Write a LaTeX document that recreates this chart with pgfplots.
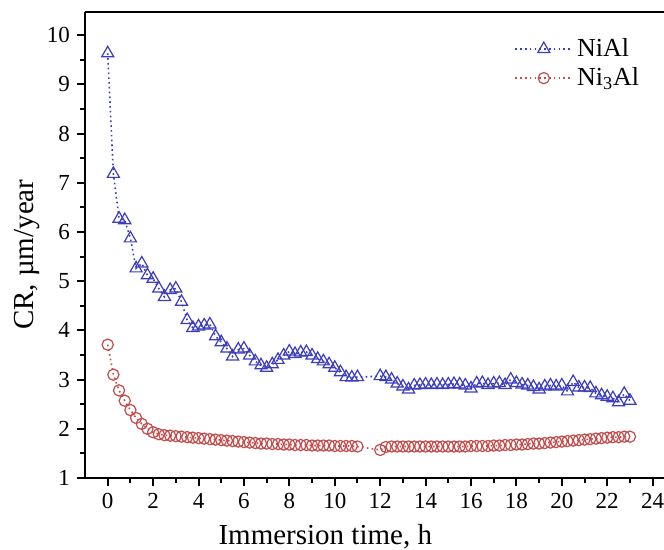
\documentclass[border=0pt]{standalone}
\usepackage{fontspec}
\setmainfont{Liberation Serif}
\usepackage{pgfplots}
\usepackage{pgfplotstable}
\pgfplotsset{compat=1.18}
\definecolor{niblue}{RGB}{60,60,190}
\definecolor{nired}{RGB}{195,75,75}

% NiAl (no points between 11 h and 12 h)
\pgfplotstableread{
x y
0 9.63
0.25 7.18
0.5 6.27
0.75 6.24
1.0 5.87
1.25 5.26
1.5 5.36
1.75 5.12
2.0 5.05
2.25 4.85
2.5 4.68
2.75 4.82
3.0 4.85
3.25 4.58
3.5 4.21
3.75 4.05
4.0 4.08
4.25 4.10
4.5 4.12
4.75 3.88
5.0 3.76
5.25 3.63
5.5 3.47
5.75 3.61
6.0 3.63
6.25 3.49
6.5 3.37
6.75 3.29
7.0 3.24
7.25 3.31
7.5 3.40
7.75 3.49
8.0 3.57
8.25 3.52
8.5 3.55
8.75 3.56
9.0 3.49
9.25 3.42
9.5 3.37
9.75 3.31
10.0 3.24
10.25 3.15
10.5 3.05
10.75 3.04
11.0 3.05
12.0 3.07
12.25 3.05
12.5 3.00
12.75 2.92
13.0 2.86
13.25 2.80
13.5 2.88
13.75 2.89
14.0 2.90
14.25 2.89
14.5 2.90
14.75 2.89
15.0 2.90
15.25 2.91
15.5 2.90
15.75 2.88
16.0 2.82
16.25 2.92
16.5 2.93
16.75 2.89
17.0 2.92
17.25 2.93
17.5 2.89
17.75 3.00
18.0 2.93
18.25 2.90
18.5 2.88
18.75 2.85
19.0 2.80
19.25 2.86
19.5 2.88
19.75 2.86
20.0 2.88
20.25 2.76
20.5 2.95
20.75 2.84
21.0 2.84
21.25 2.83
21.5 2.72
21.75 2.68
22.0 2.65
22.25 2.62
22.5 2.54
22.75 2.71
23.0 2.57
}\nial

% Ni3Al
\pgfplotstableread{
x y
0 3.71
0.25 3.10
0.5 2.78
0.75 2.57
1.0 2.38
1.25 2.22
1.5 2.10
1.75 2.00
2.0 1.93
2.25 1.89
2.5 1.87
2.75 1.86
3.0 1.85
3.25 1.84
3.5 1.83
3.75 1.82
4.0 1.81
4.25 1.80
4.5 1.79
4.75 1.78
5.0 1.77
5.25 1.76
5.5 1.75
5.75 1.74
6.0 1.73
6.25 1.72
6.5 1.71
6.75 1.70
7.0 1.70
7.25 1.69
7.5 1.69
7.75 1.68
8.0 1.68
8.25 1.67
8.5 1.67
8.75 1.67
9.0 1.66
9.25 1.66
9.5 1.66
9.75 1.66
10.0 1.65
10.25 1.65
10.5 1.65
10.75 1.65
11.0 1.64
12.0 1.57
12.25 1.63
12.5 1.64
12.75 1.64
13.0 1.64
13.25 1.64
13.5 1.64
13.75 1.64
14.0 1.64
14.25 1.64
14.5 1.64
14.75 1.64
15.0 1.64
15.25 1.64
15.5 1.64
15.75 1.64
16.0 1.65
16.25 1.65
16.5 1.65
16.75 1.65
17.0 1.66
17.25 1.66
17.5 1.67
17.75 1.67
18.0 1.68
18.25 1.68
18.5 1.69
18.75 1.70
19.0 1.70
19.25 1.71
19.5 1.72
19.75 1.73
20.0 1.74
20.25 1.75
20.5 1.76
20.75 1.77
21.0 1.78
21.25 1.79
21.5 1.80
21.75 1.81
22.0 1.82
22.25 1.83
22.5 1.83
22.75 1.84
23.0 1.84
}\nithreeal

\begin{document}
\begin{tikzpicture}
\path[use as bounding box] (-42.5pt,-36pt) rectangle (289.5pt,239pt);
\begin{axis}[
  scale only axis,
  width=289.5pt, height=233pt,
  at={(0pt,0pt)}, anchor=south west,
  xmin=-1, xmax=24.5,
  ymin=1, ymax=10.47,
  axis x line=box, axis y line=left,
  axis line style={-, line width=1.1pt},
  tick align=outside,
  xtick pos=left, ytick pos=left,
  xtick={0,2,...,24}, ytick={1,...,10},
  minor x tick num=1, minor y tick num=1,
  major tick length=4pt, minor tick length=2.5pt,
  major tick style={line width=1pt, black},
  minor tick style={line width=1pt, black},
  /pgf/number format/assume math mode=true,
  ticklabel style={font=\fontsize{11.5}{13}\selectfont},
  xlabel={Immersion time, h},
  ylabel={CR, µm/year},
  every axis x label/.style={at={([yshift=-33.5pt]axis description cs:0.415,0)},
    anchor=base, font=\fontsize{14.5}{16}\selectfont},
  every axis y label/.style={at={([xshift=-25.5pt]axis description cs:0,0.479)},
    rotate=90, anchor=base, font=\fontsize{14.5}{16}\selectfont},
  legend style={draw=none, fill=none, at={(0.975,0.961)}, anchor=north east,
    font=\fontsize{13}{15}\selectfont, row sep=0pt},
  legend cell align=left,
  legend image code/.code={\draw[#1, mark repeat=2, mark phase=2] plot coordinates {(0cm,0cm) (0.5cm,0cm) (1cm,0cm)};},
]
\addplot[niblue, line width=0.8pt, dash pattern=on 0.8pt off 1.6pt,
  mark=triangle, mark size=3.5pt, mark options={solid, line width=0.6pt}]
  table[x=x, y=y] {\nial};
\addplot[nired, line width=0.8pt, dash pattern=on 0.8pt off 1.6pt,
  mark=o, mark size=2.8pt, mark options={solid, line width=0.6pt}]
  table[x=x, y=y] {\nithreeal};
\legend{NiAl, Ni\textsubscript{3}Al}
\end{axis}
\end{tikzpicture}
\end{document}
